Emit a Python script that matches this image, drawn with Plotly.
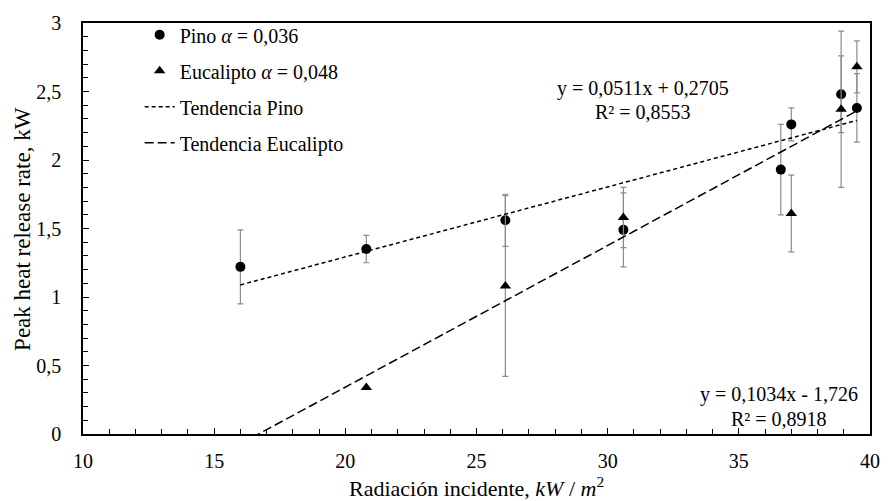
import plotly.graph_objects as go

# ---- data ----
radiacion_pino = [16.0, 20.8, 26.1, 30.6, 36.6, 37.0, 38.9, 39.5]
phrr_pino = [1.22, 1.35, 1.56, 1.49, 1.93, 2.26, 2.48, 2.38]
err_pino = [0.27, 0.10, 0.19, 0.27, 0.33, 0.12, 0.28, 0.25]

radiacion_euc = [20.8, 26.1, 30.6, 37.0, 38.9, 39.5]
phrr_euc = [0.34, 1.08, 1.58, 1.61, 2.37, 2.68]
err_euc = [0.0, 0.66, 0.22, 0.28, 0.57, 0.19]

# trend-line coefficients (as printed on the chart)
pend_pino, orig_pino = 0.0511, 0.2705
pend_euc, orig_euc = 0.1034, -1.726
trend_x = [16.0, 39.5]

x_ticks = [10, 15, 20, 25, 30, 35, 40]
y_ticks = [0, 0.5, 1, 1.5, 2, 2.5, 3]

eq_pino = ["y = 0,0511x + 0,2705", "R² = 0,8553"]
eq_euc = ["y = 0,1034x - 1,726", "R² = 0,8918"]

FONT = "Liberation Serif"
ERR_COLOR = "#8c8c8c"
FS = 20
FS_TITLE = 22

fig = go.Figure()

fig.add_trace(go.Scatter(
    x=radiacion_pino, y=phrr_pino, mode="markers",
    name="Pino <i>α</i> = 0,036", legendgroup="a",
    marker=dict(symbol="circle", size=10, color="black"),
    error_y=dict(type="data", array=err_pino, color=ERR_COLOR, thickness=1.2, width=3),
))
fig.add_trace(go.Scatter(
    x=radiacion_euc, y=phrr_euc, mode="markers",
    name="Eucalipto <i>α</i> = 0,048", legendgroup="b",
    marker=dict(symbol="triangle-up", size=10, color="black"),
    error_y=dict(type="data", array=err_euc, color=ERR_COLOR, thickness=1.2, width=3),
))
fig.add_trace(go.Scatter(
    x=trend_x, y=[pend_pino * v + orig_pino for v in trend_x], mode="lines",
    name="Tendencia Pino", legendgroup="c",
    line=dict(color="black", width=1.5, dash="4px,3px"),
))
fig.add_trace(go.Scatter(
    x=trend_x, y=[pend_euc * v + orig_euc for v in trend_x], mode="lines",
    name="Tendencia Eucalipto", legendgroup="d",
    line=dict(color="black", width=1.5, dash="9px,4px"),
))

# regression equations (one annotation per line for tight spacing)
for txt, yy in zip(eq_pino, [0.841, 0.783]):
    fig.add_annotation(x=0.712, y=yy, xref="paper", yref="paper",
                       xanchor="center", yanchor="middle", text=txt, showarrow=False,
                       font=dict(family=FONT, size=FS, color="black"))
for txt, yy in zip(eq_euc, [0.095, 0.037]):
    fig.add_annotation(x=0.885, y=yy, xref="paper", yref="paper",
                       xanchor="center", yanchor="middle", text=txt, showarrow=False,
                       font=dict(family=FONT, size=FS, color="black"))

# axis titles
fig.add_annotation(x=0.5, y=-0.13, xref="paper", yref="paper",
                   xanchor="center", yanchor="middle", showarrow=False,
                   text="Radiación incidente, <i>kW</i> / <i>m</i><sup>2</sup>",
                   font=dict(family=FONT, size=FS_TITLE, color="black"))
fig.add_annotation(x=-0.077, y=0.5, xref="paper", yref="paper",
                   xanchor="center", yanchor="middle", showarrow=False, textangle=-90,
                   text="Peak heat release rate, kW",
                   font=dict(family=FONT, size=23, color="black"))

axis_common = dict(
    showline=True, linecolor="black", linewidth=1.5, mirror=True,
    showgrid=False, zeroline=False, ticks="inside", ticklen=6, tickcolor="black",
    tickfont=dict(family=FONT, size=FS, color="black"),
)

fig.update_xaxes(range=[10, 40], tickvals=x_ticks, ticklabelstandoff=8,
                 minor=dict(dtick=1, ticks="inside", ticklen=5, tickcolor="black"),
                 **axis_common)
fig.update_yaxes(range=[0, 3], tickvals=y_ticks, ticklabelstandoff=16,
                 minor=dict(dtick=0.1, ticks="inside", ticklen=5, tickcolor="black"),
                 **axis_common)

fig.update_layout(
    width=892, height=501,
    margin=dict(l=83, r=12, t=17, b=67),
    paper_bgcolor="white", plot_bgcolor="white",
    separators=",.",
    font=dict(family=FONT, size=FS, color="black"),
    showlegend=True,
    legend=dict(x=0.072, y=1.019, xanchor="left", yanchor="top",
                bgcolor="rgba(255,255,255,0)", tracegroupgap=7,
                itemwidth=30, font=dict(family=FONT, size=FS, color="black")),
)

fig.write_html("out.html")
